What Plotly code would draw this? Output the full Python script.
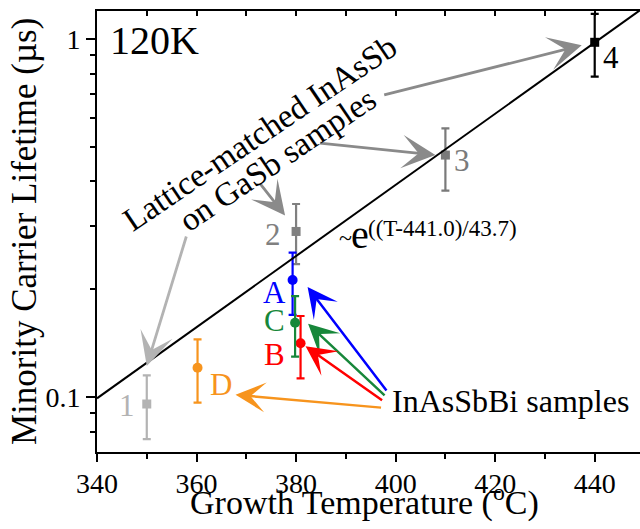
import numpy as np
import plotly.graph_objects as go

# ---- data -------------------------------------------------------------
# Lattice-matched InAsSb on GaSb (samples 1-4)
lm_labels = ["1", "2", "3", "4"]
lm_temp = [350, 380, 410, 440]
lm_tau = [0.0956, 0.290, 0.474, 0.979]
lm_err_plus = [0.0193, 0.056, 0.089, 0.196]
lm_err_minus = [0.0193, 0.055, 0.097, 0.194]
lm_colors = ["#b3b3b3", "#808080", "#7a7a7a", "#000000"]

# InAsSbBi samples (A-D)
bi_labels = ["A", "B", "C", "D"]
bi_temp = [379.3, 380.9, 379.8, 360.2]
bi_tau = [0.2122, 0.1413, 0.1612, 0.1207]
bi_err_plus = [0.0408, 0.0271, 0.0302, 0.0242]
bi_err_minus = [0.0427, 0.0285, 0.0316, 0.0243]
bi_colors = ["#0000ff", "#ff0000", "#17873a", "#f7941d"]

# exponential trend  ~exp((T - T0) / Ts)
fit_T0 = 441.0
fit_Ts = 43.7
fit_T_range = [340, 450]

x_ticks = [340, 360, 380, 400, 420, 440]
y_ticks = [0.1, 1]
y_tick_text = ["0.1", "1"]
y_minor = [0.07, 0.08, 0.09, 0.2, 0.3, 0.4, 0.5, 0.6, 0.7, 0.8, 0.9]

# ---- layout geometry ---------------------------------------------------
W, H = 640, 529
M_L, M_T, M_B, M_R = 97, 11, 77, 0
PW, PH = W - M_L - M_R, H - M_T - M_B
X_MAX = 449.1
FONT = "Liberation Serif"


def paper(px, py):
    return (px - M_L) / PW, (M_T + PH - py) / PH


fig = go.Figure()

# trend line (drawn on the top axis twin so its inward ticks render)
fit_T = np.linspace(fit_T_range[0], fit_T_range[1], 50)
fig.add_trace(go.Scatter(
    x=fit_T, y=np.exp((fit_T - fit_T0) / fit_Ts), mode="lines",
    line=dict(color="black", width=2), xaxis="x2", yaxis="y",
    showlegend=False, hoverinfo="skip"))


def add_point(t, tau, ep, em, color, symbol, size):
    fig.add_trace(go.Scatter(
        x=[t], y=[tau], mode="markers",
        marker=dict(symbol=symbol, size=size, color=color),
        error_y=dict(type="data", symmetric=False, array=[ep], arrayminus=[em],
                     color=color, thickness=2.2, width=4),
        showlegend=False))


for t, v, ep, em, c in zip(lm_temp, lm_tau, lm_err_plus, lm_err_minus, lm_colors):
    add_point(t, v, ep, em, c, "square", 9)
for t, v, ep, em, c in zip(bi_temp, bi_tau, bi_err_plus, bi_err_minus, bi_colors):
    add_point(t, v, ep, em, c, "circle", 10)

ann = []

# sample labels next to their points (pixel offsets)
lm_label_shift = [(-20, -1), (-23, -3), (17, -5), (16, -15)]
for lab, t, v, c, (dx, dy) in zip(lm_labels, lm_temp, lm_tau, lm_colors, lm_label_shift):
    ann.append(dict(x=t, y=np.log10(v), xref="x", yref="y", text=lab,
                    showarrow=False, xshift=dx, yshift=dy,
                    font=dict(family=FONT, size=31, color=c)))
bi_label_shift = [(-18, -12), (-26, -11), (-21, 2), (23, -17)]
for lab, t, v, c, (dx, dy) in zip(bi_labels, bi_temp, bi_tau, bi_colors, bi_label_shift):
    ann.append(dict(x=t, y=np.log10(v), xref="x", yref="y", text=lab,
                    showarrow=False, xshift=dx, yshift=dy,
                    font=dict(family=FONT, size=31, color=c)))


def arrow(t, v, tip_dx, tip_dy, ax, ay, color, width):
    ann.append(dict(x=t, y=np.log10(v), xref="x", yref="y", text="",
                    showarrow=True, xshift=tip_dx, yshift=tip_dy,
                    ax=ax, ay=ay, axref="pixel", ayref="pixel",
                    arrowhead=3, arrowsize=2.0, arrowwidth=width,
                    arrowcolor=color, standoff=0))


# arrows from the "Lattice-matched" caption
arrow(lm_temp[0], lm_tau[0], 0, 38, 40, -131, "#b3b3b3", 2.8)
arrow(lm_temp[1], lm_tau[1], -11, 16, -26, -33, "#8a8a8a", 2.8)
arrow(lm_temp[2], lm_tau[2], -10, 0, -117, -12, "#8a8a8a", 2.8)
arrow(lm_temp[3], lm_tau[3], -13, -3, -199, 50, "#8a8a8a", 2.8)
# arrows from the "InAsSbBi samples" caption
arrow(bi_temp[0], bi_tau[0], 15, -7, 80, 105, bi_colors[0], 2.5)
arrow(bi_temp[2], bi_tau[2], 13, -1, 78, 73, bi_colors[2], 2.5)
arrow(bi_temp[1], bi_tau[1], 5, -3, 78, 55, bi_colors[1], 2.5)
arrow(bi_temp[3], bi_tau[3], 38, -27, 147, 13, bi_colors[3], 2.5)


def text_at(txt, px, py, size, xanchor="left", angle=0, yanchor="middle"):
    x0, y0 = paper(px, py)
    ann.append(dict(x=x0, y=y0, xref="paper", yref="paper", text=txt,
                    showarrow=False, xanchor=xanchor, yanchor=yanchor,
                    textangle=angle,
                    font=dict(family=FONT, size=size, color="black")))


# captions
text_at("120K", 108, 41, 40)
text_at("Lattice-matched InAsSb", 260, 133, 33, "center", -34)
text_at("on GaSb samples", 277, 160, 33, "center", -34)
text_at("InAsSbBi samples", 390, 401, 32)
# trend label  ~e^((T-441.0)/43.7)
text_at("~", 337, 238, 24)
text_at("e", 349, 234, 40)
text_at("((T-441.0)/43.7)", 366, 229, 23)
# axis titles, placed by hand to sit close to the tick labels
text_at("Minority Carrier Lifetime (\u00b5s)", 25, 232, 35, "center", -90)
text_at("Growth Temperature (<sup>o</sup>C)", 364, 524, 34, "center",
        yanchor="bottom")

fig.update_layout(
    width=W, height=H,
    margin=dict(l=M_L, r=M_R, t=M_T, b=M_B, pad=0),
    paper_bgcolor="white", plot_bgcolor="white",
    font=dict(family=FONT, color="black"),
    annotations=ann,
    xaxis=dict(
        range=[340, X_MAX], tickvals=x_ticks,
        ticks="outside", ticklen=8, tickwidth=2, tickcolor="black",
        ticklabelstandoff=-3,
        minor=dict(dtick=10, tick0=340, ticks="outside", ticklen=5,
                   tickwidth=2, tickcolor="black"),
        showline=True, linewidth=2, linecolor="black", mirror=True,
        showgrid=False, zeroline=False,
        tickfont=dict(family=FONT, size=28),
    ),
    xaxis2=dict(
        matches="x", overlaying="x", side="top", anchor="y",
        tickmode="linear", tick0=340, dtick=10,
        ticks="inside", ticklen=5, tickwidth=2, tickcolor="black",
        showticklabels=False, showgrid=False, showline=False, zeroline=False,
    ),
    yaxis=dict(
        type="log", range=[-1.1536, 0.0782],
        tickvals=y_ticks, ticktext=y_tick_text,
        ticks="outside", ticklen=9, tickwidth=2, tickcolor="black",
        minor=dict(tickvals=y_minor, ticks="outside", ticklen=5,
                   tickwidth=2, tickcolor="black"),
        showline=True, linewidth=2, linecolor="black", mirror=False,
        showgrid=False, zeroline=False,
        tickfont=dict(family=FONT, size=28),
    ),
)

fig.write_html("out.html")
